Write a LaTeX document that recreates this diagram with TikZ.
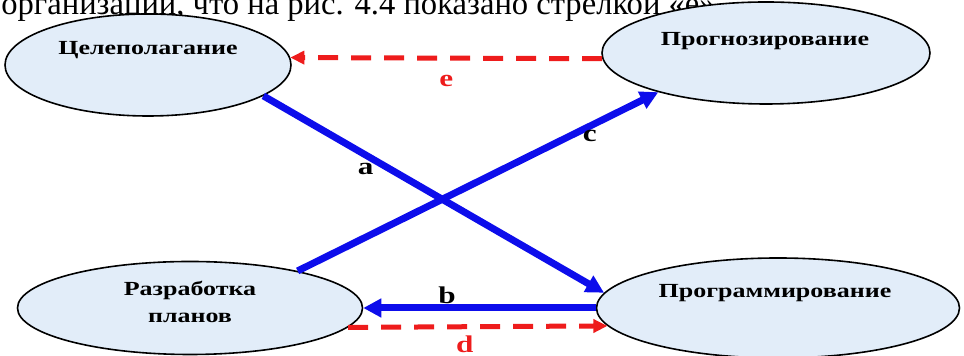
\documentclass[tikz,border=0pt]{standalone}
\usepackage{fontspec}
\setmainfont{Liberation Serif}[FakeStretch=1.3]
\newfontfamily\pagefont{Liberation Serif}
\usetikzlibrary{positioning,arrows.meta,shapes.geometric}
\definecolor{ovalFill}{HTML}{E2EDF9}
\definecolor{linkBlue}{HTML}{0D0DEB}
\definecolor{linkRed}{HTML}{EE1C1C}

\begin{document}
\begin{tikzpicture}[
    x=0.5pt, y=-0.5pt,
    oval/.style={
        ellipse, draw, fill=ovalFill,
        line width=0.8pt, inner sep=0pt
    },
    caption/.style={font=\bfseries\fontsize{10}{13.5}\selectfont, align=center},
    tag/.style={font=\bfseries\fontsize{12}{14}\selectfont, inner sep=0pt},
    solidlink/.style={-{Triangle[length=9pt,width=9pt]}, line width=3.5pt, draw=linkBlue},
    dashlink/.style={-{Triangle[length=7pt,width=6.5pt]}, line width=2.5pt, draw=linkRed,
        dash pattern=on 10pt off 6.5pt}
]
  \useasboundingbox (0,0) rectangle (964,356);
  \clip (0,0) rectangle (964,356);

  % Text of the page above the figure
  \node[anchor=base west, inner sep=0pt, font=\pagefont\fontsize{16.3}{19}\selectfont] (pagetext) at (1,15)
      {организации, что на рис. 4.4 показано стрелкой «е».};

  % Nodes
  \node[oval, minimum width=143pt, minimum height=51pt] (goal) at (148,65) {};
  \node[oval, minimum width=164pt, minimum height=51pt] (fore) at (766,53) {};
  \node[oval, minimum width=172.5pt, minimum height=46.5pt] (plans) at (190,308) {};
  \node[oval, minimum width=181.5pt, minimum height=50pt] (prog) at (778,308) {};

  \node[caption, anchor=base] (goaltext) at (148,55) {Целеполагание};
  \node[caption, anchor=base] (foretext) at (765,46) {Прогнозирование};
  \node[caption] (planstext) at (190,302) {Разработка\\планов};
  \node[caption, anchor=base] (progtext) at (775,298) {Программирование};

  % Edges
  \draw[dashlink] (fore.182) -- (goal.3)
      node[tag, text=linkRed, midway, yshift=-11.5pt] (elabel) {e};

  \draw[solidlink] (goal.-15) -- (prog.175)
      node[tag, pos=0.3, yshift=-7pt] (alabel) {a};

  \draw[solidlink] (plans.19) -- (fore.200)
      node[tag, pos=0.81, yshift=-5pt] (clabel) {c};

  \draw[solidlink] (prog.west) -- (plans.east)
      node[tag, pos=0.64, yshift=6.5pt] (blabel) {b};

  \draw[dashlink] (plans.-7) -- (prog.186)
      node[tag, text=linkRed, pos=0.45, yshift=-9pt] (dlabel) {d};

\end{tikzpicture}
\end{document}
